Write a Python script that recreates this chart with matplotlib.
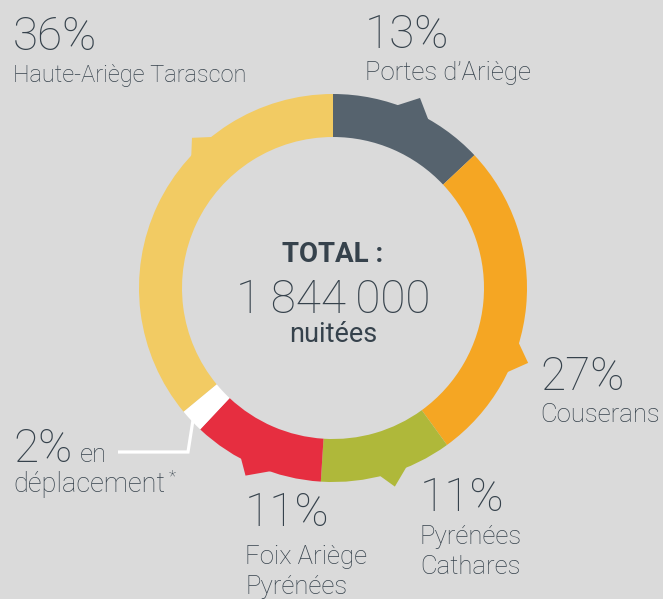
import numpy as np
import matplotlib
matplotlib.use('Agg')
import matplotlib.pyplot as plt
from matplotlib.patches import Polygon

plt.rcParams['font.family'] = ['Roboto', 'DejaVu Sans']

# data
regions = ['Portes d\u2019Ariège', 'Couserans', 'Pyrénées\nCathares',
           'Foix Ariège\nPyrénées', 'en déplacement', 'Haute-Ariège Tarascon']
shares = [13, 27, 11, 11, 2, 36]
colors = ['#56636e', '#f5a623', '#afb83a', '#e62e40', '#ffffff', '#f2cb63']
total_label = '1\u2009844\u2009000'

# decorative pointers (clockwise deg from top): start, end, tip, tip radius
pointers = [(19.3, 29.5, 24.6, 209), (106.4, 115.8, 111, 209),
            (157.7, 166, 162.7, 208), (198.8, 208.4, 205, 207),
            (312.9, 321.3, 316.8, 206)]
pointer_colors = ['#56636e', '#f5a623', '#afb83a', '#e62e40', '#f2cb63']

bg = '#dadada'
txt = '#36424c'
W, H = 663, 599
cx, cy = 333, H - 288
R, width = 194, 43

fig = plt.figure(figsize=(W / 100, H / 100), dpi=100, facecolor=bg)
ax = fig.add_axes([0, 0, 1, 1])
ax.set_facecolor(bg)

ax.pie(shares, colors=colors, startangle=90, counterclock=False,
       radius=R, center=(cx, cy),
       wedgeprops=dict(width=width, linewidth=0, antialiased=True))


def pt(theta, r):
    t = np.radians(theta)
    return (cx + r * np.sin(t), cy + r * np.cos(t))


for (a1, a2, at, rt), c in zip(pointers, pointer_colors):
    poly = [pt(a1, R - 4), pt(a1, R - 0.5), pt(at, rt), pt(a2, R - 0.5), pt(a2, R - 4)]
    ax.add_patch(Polygon(poly, closed=True, facecolor=c, edgecolor='none'))

# leader line for "en deplacement"
ax.plot([193, 188, 118], [H - 420, H - 452, H - 452], color='white', lw=2.3,
        solid_joinstyle='miter', solid_capstyle='butt')

ax.set_xlim(0, W)
ax.set_ylim(0, H)
ax.set_aspect('equal')
ax.axis('off')

big = 33
wt = 'light'


def label(x, y_base, pct, name, lab=18.5, gap=32, line=30):
    ax.text(x, H - y_base, f'{pct}%', fontsize=big, fontweight=wt,
            color=txt, va='baseline', ha='left')
    for i, ln in enumerate(name.split('\n')):
        ax.text(x, H - (y_base + gap + i * line), ln, fontsize=lab,
                fontweight=wt, color=txt, va='baseline', ha='left')


label(13, 50, shares[5], regions[5], lab=17)
label(365, 48, shares[0], regions[0], lab=18.5)
label(540, 390, shares[1], regions[1], lab=18.5)
label(420, 511, shares[2], regions[2], gap=33)
label(245, 526, shares[3], regions[3], gap=38)

# 2% en deplacement
ax.text(13, H - 462, f'{shares[4]}%', fontsize=big, fontweight=wt,
        color=txt, va='baseline', ha='left')
ax.text(80, H - 462, 'en', fontsize=18.5, fontweight=wt,
        color=txt, va='baseline', ha='left')
ax.text(13, H - 492, 'déplacement', fontsize=19.5, fontweight=wt,
        color=txt, va='baseline', ha='left')
ax.text(169, H - 477, '*', fontsize=12, color=txt, va='center', ha='left',
        fontweight=wt)

# centre
ax.text(cx, H - 262, 'TOTAL :', fontsize=20, fontweight='bold',
        color=txt, va='baseline', ha='center')
ax.text(cx, H - 313, total_label, fontsize=33, fontweight=wt,
        color=txt, va='baseline', ha='center')
ax.text(cx, H - 342, 'nuitées', fontsize=19.5, fontweight='normal',
        color=txt, va='baseline', ha='center')

fig.savefig('out.png', dpi=100, facecolor=bg)
